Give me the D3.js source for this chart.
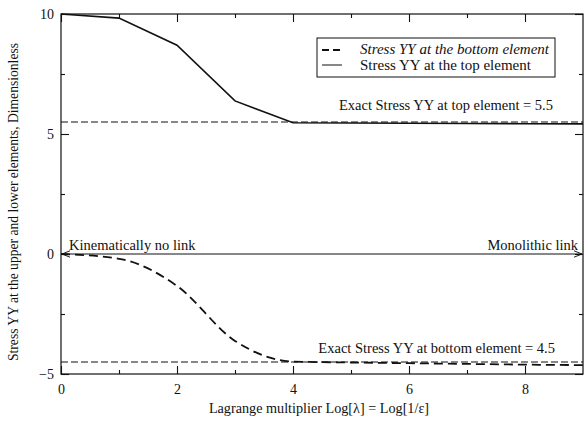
<!DOCTYPE html>
<html>
<head>
<meta charset="utf-8">
<script src="https://cdn.jsdelivr.net/npm/d3@7"></script>
<style>
  html, body { margin: 0; padding: 0; background: #fff; }
  svg { display: block; font-family: "Liberation Serif", "Times New Roman", serif; }
</style>
</head>
<body>
<svg id="chart" width="586" height="426"></svg>
<script>
// Lagrange multiplier exponent (log10 of lambda)
const logLambda = [0, 1, 2, 3, 4, 5, 6, 7, 8, 9];
// Stress YY at the top element
const stressTop = [10.0, 9.83, 8.7, 6.38, 5.47, 5.46, 5.45, 5.44, 5.43, 5.42];
// Stress YY at the bottom element
const stressBottom = [0.0, -0.2, -1.33, -3.62, -4.48, -4.52, -4.55, -4.58, -4.61, -4.63];
// Exact reference values
const exactTop = 5.5;
const exactBottom = -4.5;

const xMajor = [0, 2, 4, 6, 8];
const xMinor = [1, 3, 5, 7];
const yMajor = [-5, 0, 5, 10];
const yMinor = [-2.5, 2.5, 7.5];

const svg = d3.select("#chart");
const m = { left: 61, right: 3, top: 14, bottom: 52 };
const W = 586, H = 426;

const x = d3.scaleLinear().domain([0, 9]).range([m.left, W - m.right]);
const y = d3.scaleLinear().domain([-5, 10]).range([H - m.bottom, m.top]);

const ink = "#111";

// Frame
svg.append("rect")
  .attr("x", x(0)).attr("y", y(10))
  .attr("width", x(9) - x(0)).attr("height", y(-5) - y(10))
  .attr("fill", "none").attr("stroke", ink).attr("stroke-width", 1.2);

// Inward ticks on all four sides
function tickAxis(axisFn, scale, values, size, transform, label) {
  const g = svg.append("g").attr("transform", transform)
    .call(axisFn(scale).tickValues(values).tickSize(size).tickFormat(label ? d3.format("d") : ""));
  g.select(".domain").remove();
  g.selectAll(".tick line").attr("stroke", ink).attr("stroke-width", 1.1);
  g.selectAll(".tick text")
    .attr("fill", ink).style("font-size", "14px")
    .style("font-family", "Liberation Serif, serif");
  return g;
}
const bottomY = y(-5), topY = y(10), leftX = x(0), rightX = x(9);

const gxb = tickAxis(d3.axisBottom, x, xMajor, -8, `translate(0,${bottomY})`, true);
gxb.selectAll(".tick text").attr("y", 10);
tickAxis(d3.axisBottom, x, xMinor, -4, `translate(0,${bottomY})`, false);
tickAxis(d3.axisTop, x, xMajor, -8, `translate(0,${topY})`, false);
tickAxis(d3.axisTop, x, xMinor, -4, `translate(0,${topY})`, false);

const gyl = tickAxis(d3.axisLeft, y, yMajor, -8, `translate(${leftX},0)`, true);
gyl.selectAll(".tick text").attr("x", -7);
tickAxis(d3.axisLeft, y, yMinor, -4, `translate(${leftX},0)`, false);
tickAxis(d3.axisRight, y, yMajor, -8, `translate(${rightX},0)`, false);
tickAxis(d3.axisRight, y, yMinor, -4, `translate(${rightX},0)`, false);

// Exact value reference lines (thin dashes)
[exactTop, exactBottom].forEach(v => {
  svg.append("line")
    .attr("x1", x(0)).attr("x2", x(9))
    .attr("y1", y(v)).attr("y2", y(v))
    .attr("stroke", ink).attr("stroke-width", 1)
    .attr("stroke-dasharray", "7,3");
});

// Zero line with arrows at both ends
svg.append("defs").append("marker")
  .attr("id", "arrow").attr("viewBox", "0 0 10 10")
  .attr("refX", 10).attr("refY", 5)
  .attr("markerWidth", 8).attr("markerHeight", 8)
  .attr("orient", "auto-start-reverse")
  .append("path").attr("d", "M0,1 L10,5 L0,9")
  .attr("fill", "none").attr("stroke", ink).attr("stroke-width", 1.2);

svg.append("line")
  .attr("x1", x(0) + 1).attr("x2", x(9) - 1)
  .attr("y1", y(0)).attr("y2", y(0))
  .attr("stroke", ink).attr("stroke-width", 1)
  .attr("marker-start", "url(#arrow)").attr("marker-end", "url(#arrow)");

const line = d3.line().x((d, i) => x(logLambda[i])).y(d => y(d));
const smoothLine = d3.line().curve(d3.curveMonotoneX)
  .x((d, i) => x(logLambda[i])).y(d => y(d));

svg.append("path").datum(stressTop)
  .attr("d", line).attr("fill", "none")
  .attr("stroke", ink).attr("stroke-width", 1.6);

svg.append("path").datum(stressBottom)
  .attr("d", smoothLine).attr("fill", "none")
  .attr("stroke", ink).attr("stroke-width", 1.8)
  .attr("stroke-dasharray", "9,5");

// Annotations
const txt = (tx, ty, s, anchor) => svg.append("text")
  .attr("x", tx).attr("y", ty).attr("text-anchor", anchor || "start")
  .attr("fill", ink).style("font-size", "14.5px").text(s);

txt(553, y(exactTop) - 12, "Exact Stress YY at top element = 5.5", "end");
txt(555, y(exactBottom) - 9, "Exact Stress YY at bottom element = 4.5", "end");
txt(69, y(0) - 4, "Kinematically no link");
txt(578, y(0) - 4, "Monolithic link", "end");

// Axis titles
svg.append("text")
  .attr("x", 319).attr("y", 413).attr("text-anchor", "middle")
  .attr("fill", ink).style("font-size", "14.2px")
  .text("Lagrange multiplier Log[λ] = Log[1/ε]");

svg.append("text")
  .attr("transform", `translate(18,${(y(10) + y(-5)) / 2 + 8}) rotate(-90)`)
  .attr("text-anchor", "middle")
  .attr("fill", ink).style("font-size", "13.6px")
  .text("Stress YY at the upper and lower elements, Dimensionless");

// Legend
const lg = svg.append("g").attr("transform", "translate(317,38)");
lg.append("rect").attr("width", 238).attr("height", 39)
  .attr("fill", "#fff").attr("stroke", ink).attr("stroke-width", 1);
lg.append("line").attr("x1", 5).attr("x2", 25).attr("y1", 12).attr("y2", 12)
  .attr("stroke", ink).attr("stroke-width", 1.8).attr("stroke-dasharray", "7,4");
lg.append("line").attr("x1", 5).attr("x2", 25).attr("y1", 27).attr("y2", 27)
  .attr("stroke", ink).attr("stroke-width", 1);
lg.append("text").attr("x", 43).attr("y", 16).attr("fill", ink)
  .style("font-size", "15px").style("font-style", "italic")
  .text("Stress YY at the bottom element");
lg.append("text").attr("x", 43).attr("y", 32).attr("fill", ink)
  .style("font-size", "15px")
  .text("Stress YY at the top element");
</script>
</body>
</html>
